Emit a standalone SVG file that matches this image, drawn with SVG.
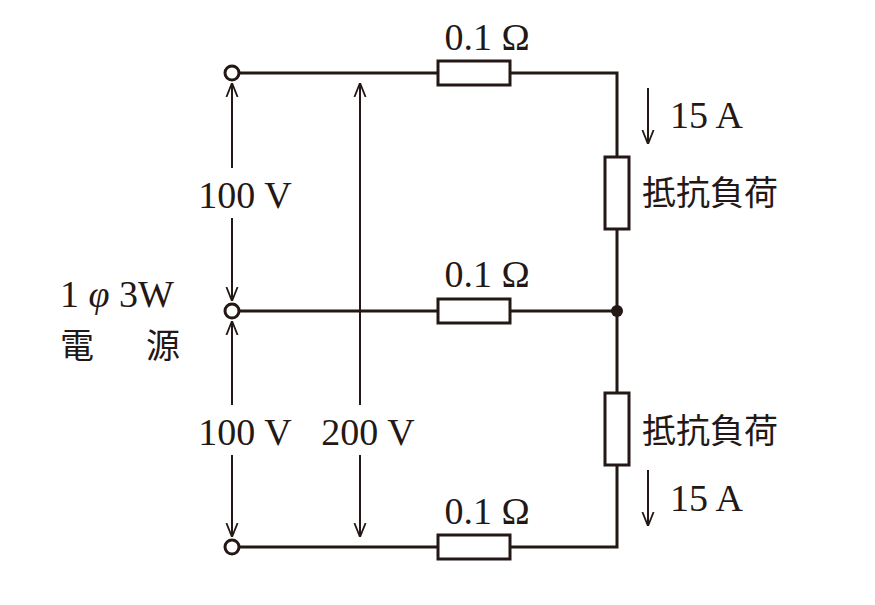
<svg xmlns="http://www.w3.org/2000/svg" width="875" height="605" viewBox="0 0 875 605">
<style>
.w{stroke:#231815;stroke-width:3;fill:none}
.r{stroke:#231815;stroke-width:3;fill:#fff}
.a{stroke:#231815;stroke-width:2;fill:none}
text{font-family:"Liberation Serif","Noto Sans CJK JP",serif;font-size:38px;fill:#231815}
.j{font-size:34px}
</style>
<defs>
<marker id="ah" viewBox="0 0 10 10" refX="10" refY="5" markerWidth="14" markerHeight="14" markerUnits="userSpaceOnUse" orient="auto"><path d="M0,1 L10,5 L0,9" fill="none" stroke="#231815" stroke-width="1.3"/></marker>
</defs>
<rect width="875" height="605" fill="#fff"/>
<g id="connectors">
<path class="w" d="M240,73 H617 V311 M240,311 H617 M240,547 H617 V311"/>
<path class="a" d="M232,168 V83" marker-end="url(#ah)"/>
<path class="a" d="M232,218 V301" marker-end="url(#ah)"/>
<path class="a" d="M232,405 V321" marker-end="url(#ah)"/>
<path class="a" d="M232,455 V537" marker-end="url(#ah)"/>
<path class="a" d="M360,405 V83" marker-end="url(#ah)"/>
<path class="a" d="M360,455 V537" marker-end="url(#ah)"/>
<path class="a" d="M648,88 V144" marker-end="url(#ah)"/>
<path class="a" d="M648,470 V526" marker-end="url(#ah)"/>
</g>
<g id="terminals">
<circle class="r" cx="232" cy="73" r="7"/>
<circle class="r" cx="232" cy="311" r="7"/>
<circle class="r" cx="232" cy="547" r="7"/>
<circle cx="617" cy="311" r="6" fill="#231815"/>
</g>
<g id="r1"><rect class="r" x="438" y="61" width="72" height="24"/><text x="487" y="50" text-anchor="middle">0.1 Ω</text></g>
<g id="r2"><rect class="r" x="438" y="299" width="72" height="24"/><text x="487" y="287" text-anchor="middle">0.1 Ω</text></g>
<g id="r3"><rect class="r" x="438" y="535" width="72" height="24"/><text x="487" y="524" text-anchor="middle">0.1 Ω</text></g>
<g id="load1"><rect class="r" x="605" y="157" width="24" height="72"/><text class="j" x="642" y="205">抵抗負荷</text></g>
<g id="load2"><rect class="r" x="605" y="393" width="24" height="72"/><text class="j" x="642" y="443">抵抗負荷</text></g>
<g id="labels">
<text x="245" y="208" text-anchor="middle">100 V</text>
<text x="245" y="445" text-anchor="middle">100 V</text>
<text x="368" y="445" text-anchor="middle">200 V</text>
<text x="670" y="128">15 A</text>
<text x="670" y="511">15 A</text>
<text x="60" y="307">1 <tspan font-style="italic">φ</tspan> 3W</text>
<text class="j" x="60" y="358">電</text>
<text class="j" x="146" y="358">源</text>
</g>
</svg>
